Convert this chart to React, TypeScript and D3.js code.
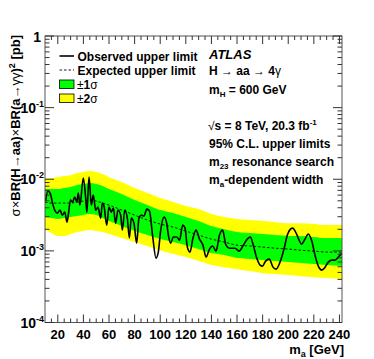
import React from 'react';
import * as d3 from 'd3';

// expected limit and bands at these masses [GeV]
const massGrid = [10, 15, 20, 25, 30, 35, 40, 45, 50, 55, 60, 70, 80, 90, 100, 110, 120, 130, 140, 150, 160, 170, 180, 190, 200, 210, 220, 230, 242];
const expected = [0.0048, 0.00465, 0.00465, 0.00465, 0.00465, 0.0048, 0.00496, 0.00512, 0.00496, 0.00465, 0.00436, 0.00371, 0.00316, 0.00269, 0.00237, 0.00215, 0.00189, 0.00166, 0.00146, 0.00133, 0.0012, 0.00117, 0.00113, 0.00109, 0.00106, 0.00102, 0.000993, 0.000962, 0.000962];
const onePlus = [0.0073, 0.0073, 0.0073, 0.00754, 0.00778, 0.0083, 0.00857, 0.00885, 0.00857, 0.00804, 0.0073, 0.00621, 0.00512, 0.00436, 0.00371, 0.00337, 0.00296, 0.00261, 0.00222, 0.00201, 0.00183, 0.00177, 0.00172, 0.00166, 0.00161, 0.00161, 0.00156, 0.00151, 0.00151];
const oneMinus = [0.00296, 0.00287, 0.00278, 0.00287, 0.00296, 0.00306, 0.00316, 0.00326, 0.00316, 0.00287, 0.00261, 0.00222, 0.00189, 0.00166, 0.00146, 0.00133, 0.0012, 0.00106, 0.000931, 0.000873, 0.000793, 0.000768, 0.000743, 0.00072, 0.000697, 0.000675, 0.000654, 0.000633, 0.000613];
const twoPlus = [0.0104, 0.0104, 0.0107, 0.0111, 0.0114, 0.0122, 0.0126, 0.013, 0.0126, 0.0118, 0.0107, 0.00914, 0.00754, 0.00642, 0.00546, 0.0048, 0.00422, 0.00383, 0.00326, 0.00296, 0.00278, 0.00269, 0.00261, 0.00252, 0.00244, 0.00244, 0.00237, 0.00229, 0.00229];
const twoMinus = [0.00201, 0.00177, 0.00161, 0.00161, 0.00172, 0.00183, 0.00189, 0.00195, 0.00189, 0.00183, 0.00172, 0.00151, 0.00133, 0.00117, 0.00102, 0.000902, 0.000819, 0.00072, 0.000633, 0.000593, 0.000556, 0.000522, 0.000489, 0.000474, 0.000459, 0.000444, 0.00043, 0.000417, 0.000403];

// observed limit
const obsMass = [10.4, 12.3, 14.3, 15.7, 17.6, 19.6, 21.7, 23.5, 25.4, 27.2, 28.4, 29.9, 31.5, 33.2, 34.8, 36.0, 37.3, 39.9, 41.8, 42.7, 44.4, 46.2, 47.7, 49.6, 51.4, 53.5, 54.8, 56.1, 58.2, 60.0, 61.8, 63.4, 65.2, 67.0, 69.1, 70.4, 72.3, 74.3, 75.9, 77.4, 79.5, 81.6, 83.4, 85.2, 87.3, 89.5, 91.6, 94.1, 96.7, 98.5, 100.4, 103.0, 104.9, 106.5, 108.2, 110.2, 112.9, 115.1, 117.6, 119.4, 121.2, 123.3, 125.6, 128.0, 130.7, 133.4, 135.8, 138.5, 140.9, 143.6, 146.3, 148.7, 151.4, 154.1, 158.4, 161.6, 164.9, 168.0, 170.4, 172.7, 175.4, 178.0, 179.9, 182.3, 185.2, 188.1, 190.5, 193.6, 196.7, 199.3, 201.4, 203.4, 206.5, 208.8, 210.4, 213.1, 215.7, 218.4, 220.9, 223.5, 226.2, 228.8, 231.3, 234.0, 236.6, 239.1, 242.0];
const obsLimit = [0.00496, 0.00684, 0.00621, 0.0048, 0.00371, 0.00337, 0.00371, 0.00316, 0.00348, 0.00252, 0.00337, 0.00512, 0.0048, 0.00564, 0.0048, 0.00642, 0.00436, 0.0104, 0.00546, 0.00348, 0.0107, 0.00436, 0.00602, 0.00371, 0.00409, 0.00287, 0.00465, 0.00422, 0.00229, 0.00409, 0.00348, 0.00396, 0.00244, 0.00371, 0.00316, 0.00195, 0.00371, 0.00287, 0.00151, 0.00287, 0.00244, 0.00128, 0.00287, 0.00316, 0.00306, 0.00383, 0.0036, 0.00161, 0.000793, 0.000962, 0.00195, 0.00296, 0.00252, 0.00161, 0.00128, 0.00156, 0.00156, 0.00141, 0.00229, 0.00208, 0.00113, 0.000962, 0.00151, 0.00195, 0.00146, 0.0012, 0.000819, 0.00106, 0.00117, 0.000993, 0.00166, 0.00195, 0.0012, 0.00109, 0.00109, 0.000993, 0.0012, 0.00146, 0.00156, 0.0012, 0.000793, 0.000633, 0.000613, 0.00072, 0.000768, 0.000593, 0.000556, 0.000697, 0.00106, 0.00166, 0.00198, 0.00208, 0.00172, 0.00137, 0.00124, 0.00146, 0.00172, 0.00137, 0.000873, 0.000613, 0.000539, 0.000593, 0.000697, 0.000743, 0.000743, 0.000819, 0.000931];

const xMajor = [20, 40, 60, 80, 100, 120, 140, 160, 180, 200, 220, 240];
const yDecades = [0, -1, -2, -3, -4];

const W = 374;
const H = 359;
const frame = { left: 45, right: 342, top: 36, bottom: 322.5 };
const font = '"Liberation Sans", Arial, Helvetica, sans-serif';

export default function App() {
  const x = d3.scaleLinear().domain([10, 242]).range([frame.left, frame.right]);
  const y = d3.scaleLog().domain([1e-4, 1]).range([frame.bottom, frame.top]);

  const band = (lo: number[], hi: number[]) =>
    d3
      .area<number>()
      .x((m) => x(m))
      .y0((_, i) => y(lo[i]))
      .y1((_, i) => y(hi[i]))
      .curve(d3.curveMonotoneX)(massGrid) || '';

  const expLine =
    d3
      .line<number>()
      .x((m) => x(m))
      .y((_, i) => y(expected[i]))
      .curve(d3.curveMonotoneX)(massGrid) || '';

  const obsLine =
    d3
      .line<number>()
      .x((m) => x(m))
      .y((_, i) => y(obsLimit[i]))
      .curve(d3.curveMonotoneX)(obsMass) || '';

  const xMinor = d3.range(15, 242, 5).filter((m) => m % 20 !== 0);
  const yMinor: number[] = [];
  yDecades.slice(1).forEach((d) => {
    for (let k = 2; k <= 9; k++) yMinor.push(k * Math.pow(10, d));
  });

  return (
    <svg width={W} height={H} style={{ position: 'absolute', left: 0, top: 0 }} fontFamily={font}>
      <rect width={W} height={H} fill="#fff" />
      <defs>
        <clipPath id="plot">
          <rect x={frame.left} y={frame.top} width={frame.right - frame.left} height={frame.bottom - frame.top} />
        </clipPath>
      </defs>
      <g clipPath="url(#plot)">
        <path d={band(twoMinus, twoPlus)} fill="#ffff00" />
        <path d={band(oneMinus, onePlus)} fill="#00ff00" />
        <path d={expLine} fill="none" stroke="#000" strokeWidth={0.9} strokeDasharray="2.5,2" />
        <path d={obsLine} fill="none" stroke="#000" strokeWidth={1.6} />
      </g>

      {/* frame and ticks */}
      <rect x={frame.left} y={frame.top} width={frame.right - frame.left} height={frame.bottom - frame.top} fill="none" stroke="#555" strokeWidth={1} />
      <g stroke="#333" strokeWidth={1}>
        {xMajor.map((m) => (
          <g key={'xM' + m}>
            <line x1={x(m)} x2={x(m)} y1={frame.bottom} y2={frame.bottom - 8} />
            <line x1={x(m)} x2={x(m)} y1={frame.top} y2={frame.top + 8} />
          </g>
        ))}
        {xMinor.map((m) => (
          <g key={'xm' + m}>
            <line x1={x(m)} x2={x(m)} y1={frame.bottom} y2={frame.bottom - 4} />
            <line x1={x(m)} x2={x(m)} y1={frame.top} y2={frame.top + 4} />
          </g>
        ))}
        {yDecades.map((d) => (
          <g key={'yM' + d}>
            <line x1={frame.left} x2={frame.left + 9} y1={y(Math.pow(10, d))} y2={y(Math.pow(10, d))} />
            <line x1={frame.right} x2={frame.right - 9} y1={y(Math.pow(10, d))} y2={y(Math.pow(10, d))} />
          </g>
        ))}
        {yMinor.map((v, i) => (
          <g key={'ym' + i}>
            <line x1={frame.left} x2={frame.left + 4.5} y1={y(v)} y2={y(v)} />
            <line x1={frame.right} x2={frame.right - 4.5} y1={y(v)} y2={y(v)} />
          </g>
        ))}
      </g>

      {/* tick labels */}
      <g fontWeight="bold" fontSize={13} textAnchor="middle" fill="#000">
        {xMajor.map((m) => (
          <text key={'xl' + m} x={x(m)} y={339}>
            {m}
          </text>
        ))}
      </g>
      <g fontWeight="bold" fontSize={14} textAnchor="end" fill="#000">
        {yDecades.map((d) =>
          d === 0 ? (
            <text key={'yl' + d} x={41} y={y(1) + 6}>
              1
            </text>
          ) : (
            <text key={'yl' + d} x={44} y={y(Math.pow(10, d)) + 5}>
              10
              <tspan fontSize={9} dy={-6}>
                {'-' + -d}
              </tspan>
            </text>
          )
        )}
      </g>

      {/* axis titles */}
      <text x={344} y={354} textAnchor="end" fontWeight="bold" fontSize={13}>
        m<tspan fontSize={9} dy={2.5}>a</tspan>
        <tspan dy={-2.5}> [GeV]</tspan>
      </text>
      <text transform="translate(19.5,35) rotate(-90)" textAnchor="end" fontWeight="bold" fontSize={13}>
        <tspan fontWeight="normal">σ×</tspan>BR(H<tspan fontWeight="normal">→</tspan>aa)<tspan fontWeight="normal">×</tspan>BR(a
        <tspan fontWeight="normal">→γγ</tspan>)<tspan fontSize={9} dy={-5}>2</tspan>
        <tspan dy={5}> [pb]</tspan>
      </text>

      {/* legend */}
      <line x1={59.5} x2={74} y1={56} y2={56} stroke="#000" strokeWidth={1.6} />
      <line x1={59.5} x2={74} y1={70} y2={70} stroke="#000" strokeWidth={0.9} strokeDasharray="2.5,2" />
      <rect x={59.5} y={80} width={14.5} height={8.5} fill="#00ff00" stroke="#000" strokeWidth={0.8} />
      <rect x={59.5} y={94} width={14.5} height={8.5} fill="#ffff00" stroke="#000" strokeWidth={0.8} />
      <g fontWeight="bold" fontSize={12}>
        <text x={77.5} y={60.5}>Observed upper limit</text>
        <text x={77.5} y={74.5}>Expected upper limit</text>
        <text x={77} y={88.5}>
          <tspan fontWeight="normal">±</tspan>1<tspan fontWeight="normal">σ</tspan>
        </text>
        <text x={77} y={102.5}>
          <tspan fontWeight="normal">±</tspan>2<tspan fontWeight="normal">σ</tspan>
        </text>
      </g>

      {/* labels */}
      <g fontWeight="bold" fontSize={12}>
        <text x={209} y={59} fontStyle="italic" fontSize={13}>
          ATLAS
        </text>
        <text x={209} y={75}>
          H <tspan fontWeight="normal">→</tspan> aa <tspan fontWeight="normal">→</tspan> 4
          <tspan fontWeight="normal">γ</tspan>
        </text>
        <text x={209} y={93.5}>
          m<tspan fontSize={8} dy={3}>H</tspan>
          <tspan dy={-3}> = 600 GeV</tspan>
        </text>
        <text x={208} y={130}>
          <tspan fontWeight="normal">√</tspan>s = 8 TeV, 20.3 fb<tspan fontSize={8} dy={-5}>-1</tspan>
        </text>
        <text x={209} y={147.5}>95% C.L. upper limits</text>
        <text x={209} y={166}>
          m<tspan fontSize={8} dy={3}>23</tspan>
          <tspan dy={-3}> resonance search</tspan>
        </text>
        <text x={209} y={183.5}>
          m<tspan fontSize={8} dy={3}>a</tspan>
          <tspan dy={-3}>-dependent width</tspan>
        </text>
      </g>
    </svg>
  );
}
